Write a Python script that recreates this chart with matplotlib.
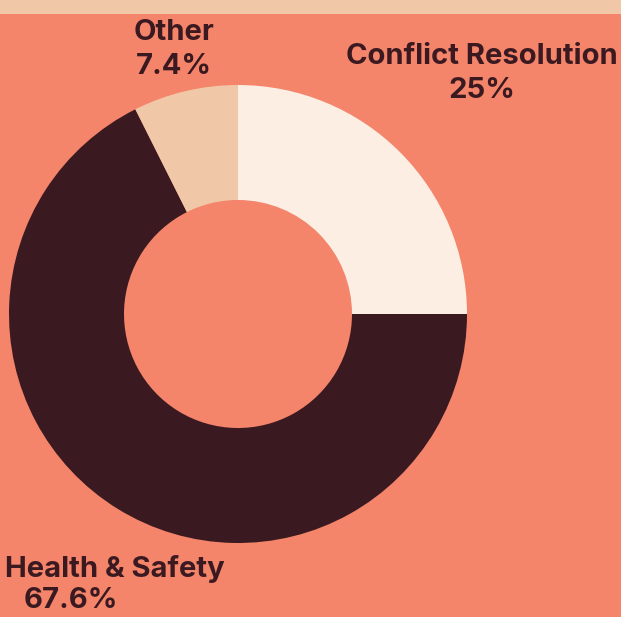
import matplotlib.pyplot as plt

labels = ["Conflict Resolution", "Health & Safety", "Other"]
values = [25.0, 67.6, 7.4]
pct_labels = ["25%", "67.6%", "7.4%"]
colors = ["#FCEEE3", "#3A1A20", "#F0C8A8"]

bg = "#F4846A"
band = "#F0C8A8"
ink = "#3A1A20"

W, H = 621, 617
fig = plt.figure(figsize=(W / 100, H / 100), dpi=100, facecolor=bg)
ax = fig.add_axes([0, 0, 1, 1])

# top band
ax.add_patch(plt.Rectangle((0, H - 14), W, 14, color=band, lw=0))

ax.pie(values, colors=colors, startangle=90, counterclock=False,
       center=(238, H - 314), radius=229, frame=True,
       wedgeprops=dict(width=115, linewidth=0))
ax.set_xlim(0, W)
ax.set_ylim(0, H)
ax.set_aspect("equal")
ax.axis("off")

font = dict(family="Inter", fontweight="bold", fontsize=21, color=ink)
# label positions (pixels from top)
ax.text(174, H - 33, labels[2], ha="center", va="center", **font)
ax.text(174, H - 67, pct_labels[2], ha="center", va="center", **font)
ax.text(482, H - 57, labels[0], ha="center", va="center", **font)
ax.text(482, H - 90, pct_labels[0], ha="center", va="center", **font)
ax.text(5, H - 569, labels[1], ha="left", va="center", **font)
ax.text(71, H - 601, pct_labels[1], ha="center", va="center", **font)

fig.savefig("out.png", dpi=100, facecolor=bg)
